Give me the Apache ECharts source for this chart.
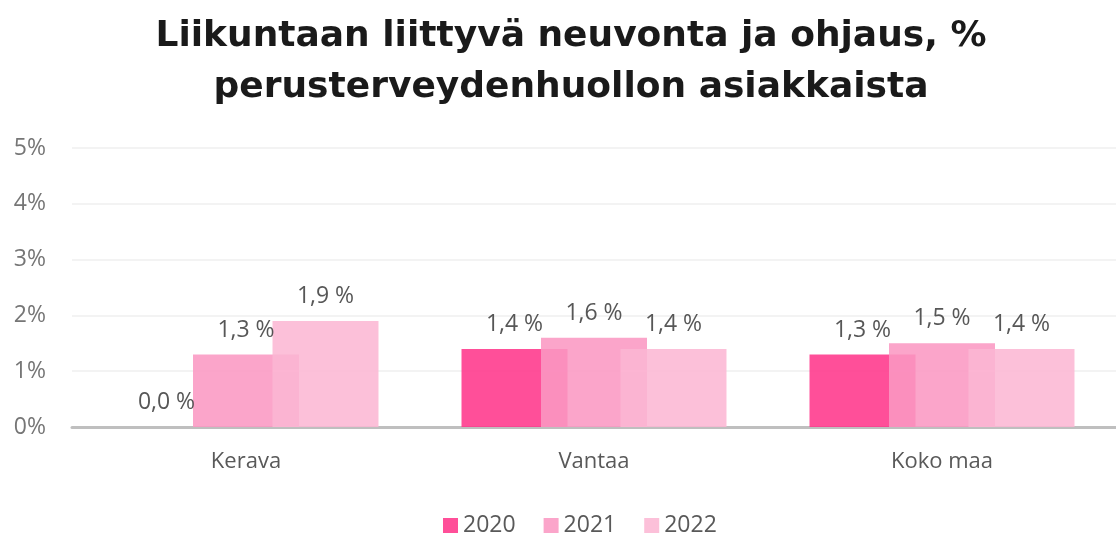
<!DOCTYPE html>
<html>
<head>
<meta charset="utf-8">
<script src="https://cdn.jsdelivr.net/npm/echarts@6/dist/echarts.min.js"></script>
<style>
  html, body { margin: 0; padding: 0; background: #fff; }
  #main { width: 1116px; height: 533px; }
</style>
</head>
<body>
<div id="main"></div>
<script>
// data
var categories = ['Kerava', 'Vantaa', 'Koko maa'];
var years = ['2020', '2021', '2022'];
var values2020 = [0.0, 1.4, 1.3];
var values2021 = [1.3, 1.6, 1.5];
var values2022 = [1.9, 1.4, 1.4];
var yTicks = [0, 1, 2, 3, 4, 5];

var colors = ['#ff378b', '#fa99c3', '#fcb7d4'];

var myChart = echarts.init(document.getElementById('main'));

function labelFmt(p) {
    return p.value.toFixed(1).replace('.', ',') + ' %';
}

function makeSeries(name, data, idx) {
    return {
        name: name,
        type: 'bar',
        data: data,
        barWidth: 106,
        barGap: '-25%',
        itemStyle: { color: colors[idx], opacity: 0.88 },
        label: {
            show: true,
            position: 'top',
            distance: 13,
            formatter: labelFmt,
            fontFamily: 'Open Sans',
            fontSize: 23,
            color: '#404040'
        }
    };
}

option = {
    color: colors,
    title: {
        text: 'Liikuntaan liittyvä neuvonta ja ohjaus, %\nperusterveydenhuollon asiakkaista',
        left: 566,
        top: 6,
        textAlign: 'center',
        textStyle: {
            fontFamily: 'DejaVu Sans',
            fontWeight: 'bold',
            fontSize: 36,
            lineHeight: 51,
            color: '#1a1a1a'
        }
    },
    legend: {
        data: years,
        top: 509,
        left: 438,
        itemWidth: 15,
        itemHeight: 15,
        itemGap: 28,
        icon: 'rect',
        textStyle: { fontFamily: 'Open Sans', fontSize: 23, color: '#595959' }
    },
    grid: {
        left: 72,
        right: 0,
        top: 148,
        bottom: 106
    },
    xAxis: {
        type: 'category',
        data: categories,
        axisTick: { show: false },
        axisLine: { lineStyle: { color: '#bfbfbf', width: 3 } },
        axisLabel: {
            fontFamily: 'Open Sans',
            fontSize: 22,
            color: '#595959',
            margin: 24
        }
    },
    yAxis: {
        type: 'value',
        min: yTicks[0],
        max: yTicks[yTicks.length - 1],
        interval: 1,
        axisLine: { show: false },
        axisTick: { show: false },
        axisLabel: {
            formatter: '{value}%',
            fontFamily: 'Open Sans',
            fontSize: 23,
            color: '#767676',
            margin: 26
        },
        splitLine: { lineStyle: { color: '#efefef', width: 1.5 } }
    },
    series: [
        makeSeries(years[0], values2020, 0),
        makeSeries(years[1], values2021, 1),
        makeSeries(years[2], values2022, 2)
    ]
};
myChart.setOption(option);
</script>
</body>
</html>
